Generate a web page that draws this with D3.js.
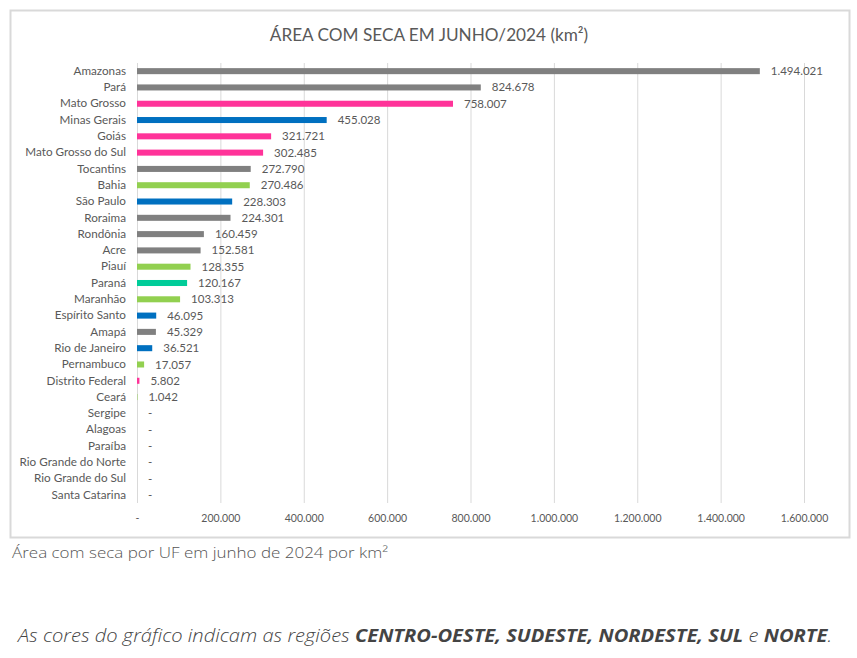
<!DOCTYPE html>
<html><head><meta charset="utf-8">
<script src="https://cdn.jsdelivr.net/npm/d3@7"></script>
<style>
body{margin:0;background:#fff;}
svg{display:block;}
</style></head>
<body>
<svg id="chart" width="857" height="658"></svg>
<script>
const states = ["Amazonas","Pará","Mato Grosso","Minas Gerais","Goiás","Mato Grosso do Sul","Tocantins","Bahia","São Paulo","Roraima","Rondônia","Acre","Piauí","Paraná","Maranhão","Espírito Santo","Amapá","Rio de Janeiro","Pernambuco","Distrito Federal","Ceará","Sergipe","Alagoas","Paraíba","Rio Grande do Norte","Rio Grande do Sul","Santa Catarina"];
const values = [1494021,824678,758007,455028,321721,302485,272790,270486,228303,224301,160459,152581,128355,120167,103313,46095,45329,36521,17057,5802,1042,0,0,0,0,0,0];
const regions = ["NORTE","NORTE","CENTRO-OESTE","SUDESTE","CENTRO-OESTE","CENTRO-OESTE","NORTE","NORDESTE","SUDESTE","NORTE","NORTE","NORTE","NORDESTE","SUL","NORDESTE","SUDESTE","NORTE","SUDESTE","NORDESTE","CENTRO-OESTE","NORDESTE","NORDESTE","NORDESTE","NORDESTE","NORDESTE","SUL","SUL"];
const regionNames = ["NORTE","CENTRO-OESTE","SUDESTE","NORDESTE","SUL"];
const regionColors = ["#808080","#ff3399","#0070c0","#92d050","#00cc99"];
const tickValues = [0,200000,400000,600000,800000,1000000,1200000,1400000,1600000];
const tickLabels = ["-","200.000","400.000","600.000","800.000","1.000.000","1.200.000","1.400.000","1.600.000"];

const svg = d3.select("#chart");
const font = "Lato, 'Open Sans', sans-serif";
const textCol = "#595959";

// frame
svg.append("rect").attr("x",10.5).attr("y",10.5).attr("width",839).attr("height",527)
  .attr("fill","#fff").attr("stroke","#d9d9d9").attr("stroke-width",2);

const x = d3.scaleLinear().domain([0,1600000]).range([137,804]);
const y = d3.scaleBand().domain(states).range([63,503]).paddingInner(0.63).paddingOuter(0.315);
const color = d3.scaleOrdinal().domain(regionNames).range(regionColors);

// gridlines
svg.append("g").selectAll("line").data(tickValues).join("line")
  .attr("x1",d=>x(d)+0.5).attr("x2",d=>x(d)+0.5).attr("y1",63).attr("y2",503)
  .attr("stroke","#d9d9d9").attr("stroke-width",1);

// x axis labels
const xAxis = d3.axisBottom(x).tickValues(tickValues).tickFormat((d,i)=>tickLabels[i]).tickSize(0).tickPadding(0);
const gx = svg.append("g").attr("transform","translate(0,515)").call(xAxis);
gx.select(".domain").remove();
gx.selectAll("text").attr("font-family",font).attr("font-size",10.5).attr("fill",textCol).attr("dy","0.71em");

// y axis labels
const yAxis = d3.axisLeft(y).tickSize(0).tickPadding(11);
const gy = svg.append("g").attr("transform","translate(137,0)").call(yAxis);
gy.select(".domain").remove();
gy.selectAll("text").attr("font-family",font).attr("font-size",11.7).attr("fill",textCol);

// bars
svg.append("g").selectAll("rect").data(states).join("rect")
  .attr("x",x(0)).attr("y",d=>y(d))
  .attr("width",(d,i)=>x(values[i])-x(0)).attr("height",y.bandwidth())
  .attr("fill",(d,i)=>color(regions[i]));

// value labels
const fmt = v => v===0 ? "-" : d3.format(",")(v).replace(/,/g,".");
svg.append("g").selectAll("text").data(states).join("text")
  .attr("x",(d,i)=>x(values[i])+11).attr("y",d=>y(d)+y.bandwidth()/2)
  .attr("dy","0.35em").attr("font-family",font).attr("font-size",11.5).attr("fill",textCol)
  .text((d,i)=>fmt(values[i]));

// title
svg.append("text").attr("x",429).attr("y",41).attr("text-anchor","middle")
  .attr("font-family",font).attr("font-size",17.2).attr("fill",textCol)
  .text("ÁREA COM SECA EM JUNHO/2024 (km²)");

// caption
svg.append("text").attr("x",12).attr("y",558)
  .attr("font-family","'Open Sans', Lato, sans-serif").attr("font-size",15).attr("font-weight",300).attr("fill","#555")
  .attr("textLength",376).attr("lengthAdjust","spacingAndGlyphs")
  .text("Área com seca por UF em junho de 2024 por km²");

// note
const note = svg.append("text").attr("x",18).attr("y",642)
  .attr("font-family","'Open Sans', Lato, sans-serif").attr("font-size",18).attr("font-style","italic").attr("fill","#444")
  .attr("textLength",814).attr("lengthAdjust","spacingAndGlyphs");
const parts = [["As cores do gráfico indicam as regiões ",false],["CENTRO-OESTE, SUDESTE, NORDESTE, SUL",true],[" e ",false],["NORTE",true],[".",false]];
parts.forEach(p=>note.append("tspan").attr("font-weight",p[1]?700:300).text(p[0]));
</script>
</body></html>
